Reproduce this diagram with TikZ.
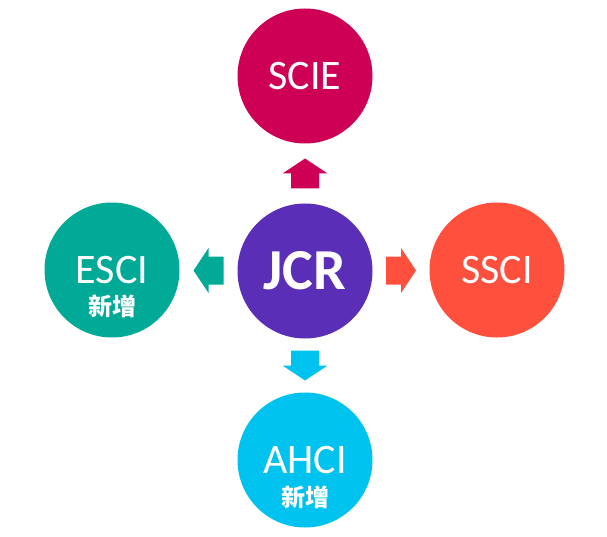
\documentclass[tikz,border=0pt]{standalone}
\usepackage{fontspec}
\setmainfont{Carlito}
\newfontfamily\cjk{Noto Sans CJK SC}
\usepackage{tikz}
\usetikzlibrary{calc, positioning}

\definecolor{jcrcol}{RGB}{91,46,184}
\definecolor{sciecol}{RGB}{206,0,86}
\definecolor{ssci}{RGB}{255,80,62}
\definecolor{escicol}{RGB}{0,170,150}
\definecolor{ahcicol}{RGB}{0,194,238}

\begin{document}
\begin{tikzpicture}[x=1pt, y=-1pt,
    ball/.style={circle, minimum size=135pt, inner sep=0pt, text=white,
        font=\fontsize{42}{42}\selectfont},
    tag/.style={text=white, inner sep=0pt, font=\cjk\bfseries\fontsize{24}{24}\selectfont},
    blockarr/.pic={\fill (-15,-14) -- (0,-14) -- (0,-22.5) -- (15,0) -- (0,22.5) -- (0,14) -- (-15,14) -- cycle;}]
                \useasboundingbox (0,0) rectangle (607,537);
                \node[ball, fill=jcrcol, font=\bfseries\fontsize{58}{58}\selectfont] (jcr) at (305,271) {JCR};
                \node[ball, fill=sciecol] (scie) at (305,76) {SCIE};
                \node[ball, fill=escicol] (esci) at (112,270) {ESCI};
                \node[ball, fill=ssci] (sscinode) at (497,270) {SSCI};
                \node[ball, fill=ahcicol] (ahci) at (305,460) {AHCI};
                \node[tag] (escinew) at ($(esci.center)+(0,36)$) {新增};
                \node[tag] (ahcinew) at ($(ahci.center)+(0,37)$) {新增};
                % arrows between the balls
                \path[fill=sciecol] ($(jcr)!0.5!(scie)$) pic[rotate=90] {blockarr};
                \path[fill=escicol] ($(jcr)!0.5!(esci)$) pic[rotate=180] {blockarr};
                \path[fill=ssci] ($(jcr)!0.5!(sscinode)$) pic {blockarr};
                \path[fill=ahcicol] ($(jcr)!0.5!(ahci)$) pic[rotate=-90] {blockarr};
            \end{tikzpicture}
\end{document}
